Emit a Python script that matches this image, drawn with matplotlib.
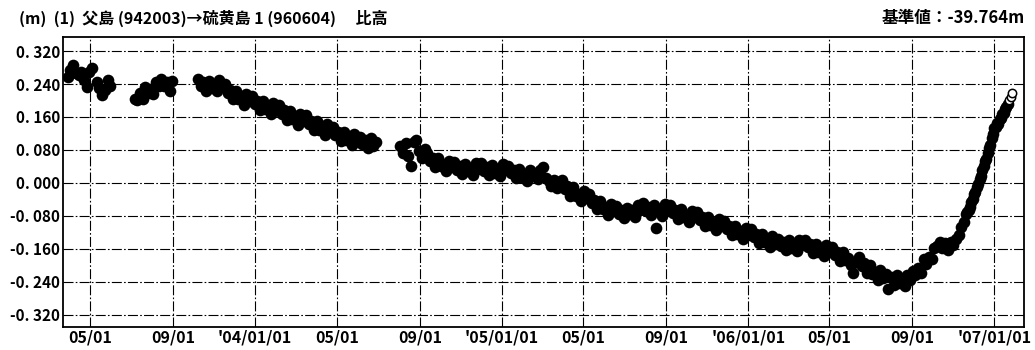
import pandas as pd
import matplotlib
matplotlib.use("Agg")
import matplotlib.pyplot as plt

plt.rcParams['font.family'] = ['Noto Sans CJK JP', 'DejaVu Sans']

# baseline height (m), one value every 4 days, per observation run
run1_start = "2003-03-29"
run1 = [0.258, 0.274, 0.286, 0.266, 0.262, 0.270, 0.250, 0.232, 0.270, 0.278]

run2_start = "2003-05-11"
run2 = [0.246, 0.230, 0.214, 0.226, 0.250, 0.236]

run3_start = "2003-07-06"
run3 = [0.204, 0.202, 0.218, 0.203, 0.232, 0.218, 0.229, 0.216, 0.246, 0.234,
        0.251, 0.234, 0.244, 0.224, 0.248]

run4_start = "2003-10-08"
run4 = [0.252, 0.234, 0.244, 0.224, 0.248, 0.230, 0.238, 0.222, 0.250, 0.236,
        0.239, 0.218, 0.225, 0.203, 0.224, 0.203, 0.208, 0.190, 0.215, 0.198,
        0.211, 0.191, 0.199, 0.177, 0.199, 0.179, 0.185, 0.167, 0.193, 0.177,
        0.189, 0.168, 0.176, 0.153, 0.175, 0.154, 0.160, 0.141, 0.167, 0.150,
        0.164, 0.143, 0.151, 0.128, 0.150, 0.129, 0.135, 0.116, 0.142, 0.125,
        0.136, 0.116, 0.124, 0.102, 0.124, 0.104, 0.110, 0.092, 0.118, 0.102,
        0.112, 0.094, 0.104, 0.084, 0.108, 0.090, 0.098]

run5_start = "2004-08-03"
run5 = [0.090, 0.072, 0.096, 0.064, 0.042, 0.100, 0.104, 0.078, 0.060, 0.082,
        0.072, 0.052, 0.060, 0.038, 0.060, 0.040, 0.046, 0.028, 0.054, 0.038,
        0.050, 0.032, 0.042, 0.022, 0.046, 0.028, 0.036, 0.020, 0.048, 0.034,
        0.047, 0.029, 0.039, 0.019, 0.043, 0.025, 0.033, 0.017, 0.045, 0.031,
        0.042, 0.023, 0.032, 0.011, 0.034, 0.015, 0.022, 0.005, 0.032, 0.017,
        0.022, 0.010, 0.030, 0.038, 0.012, 0.004, -0.008, 0.006, -0.012, -0.002,
        0.006, -0.015, -0.008, -0.031, -0.010, -0.031, -0.026, -0.045, -0.020, -0.037,
        -0.028, -0.049, -0.041, -0.064, -0.043, -0.063, -0.058, -0.077, -0.051, -0.068,
        -0.056, -0.075, -0.066, -0.086, -0.060, -0.076, -0.067, -0.082, -0.053, -0.066,
        -0.050, -0.068, -0.058, -0.078, -0.054, -0.110, -0.064, -0.080, -0.052, -0.066,
        -0.054, -0.074, -0.065, -0.087, -0.064, -0.084, -0.077, -0.095, -0.068, -0.084,
        -0.071, -0.091, -0.083, -0.105, -0.083, -0.103, -0.097, -0.115, -0.089, -0.105,
        -0.092, -0.112, -0.104, -0.126, -0.104, -0.124, -0.118, -0.136, -0.110, -0.126,
        -0.112, -0.132, -0.124, -0.146, -0.124, -0.144, -0.138, -0.156, -0.130, -0.148,
        -0.136, -0.154, -0.144, -0.164, -0.140, -0.158, -0.150, -0.166, -0.138, -0.152,
        -0.138, -0.157, -0.149, -0.170, -0.148, -0.167, -0.160, -0.178, -0.151, -0.167,
        -0.156, -0.176, -0.168, -0.190, -0.168, -0.188, -0.182, -0.200, -0.218, -0.192,
        -0.179, -0.201, -0.195, -0.219, -0.199, -0.221, -0.217, -0.236, -0.212, -0.230,
        -0.221, -0.258, -0.229, -0.249, -0.225, -0.243, -0.235, -0.251, -0.223, -0.237,
        -0.214, -0.224, -0.206, -0.218, -0.186, -0.196, -0.180, -0.186, -0.158, -0.154,
        -0.144, -0.158, -0.146, -0.162, -0.144, -0.150, -0.136, -0.126, -0.108, -0.094]

# last weeks of the record, one value every 2 days
run6_start = "2006-11-20"
run6 = [-0.076, -0.072, -0.066, -0.058, -0.046, -0.040, -0.028, -0.022, -0.010, -0.004,
        0.010, 0.016, 0.032, 0.040, 0.052, 0.058, 0.072, 0.084, 0.092, 0.110,
        0.118, 0.134, 0.136, 0.146, 0.144, 0.156, 0.158, 0.168, 0.170, 0.180,
        0.184, 0.192, 0.200, 0.208, 0.218]

# newest values (not yet final) are drawn hollow
n_open = 3

tick_dates = ["2003-05-01", "2003-09-01", "2004-01-01", "2004-05-01",
              "2004-09-01", "2005-01-01", "2005-05-01", "2005-09-01",
              "2006-01-01", "2006-05-01", "2006-09-01", "2007-01-01"]
tick_labels = ["05/01", "09/01", "'04/01/01", "05/01", "09/01", "'05/01/01",
               "05/01", "09/01", "'06/01/01", "05/01", "09/01", "'07/01/01"]
y_ticks = [-0.32, -0.24, -0.16, -0.08, 0.0, 0.08, 0.16, 0.24, 0.32]

fig = plt.figure(figsize=(10.35, 3.5), dpi=100)
ax = fig.add_axes([0.0609, 0.066, 0.9285, 0.828])

runs = [(run1_start, run1), (run2_start, run2), (run3_start, run3),
        (run4_start, run4), (run5_start, run5)]
for start, vals in runs:
    d = pd.date_range(start, periods=len(vals), freq="4D")
    ax.plot(d, vals, 'o', color='black', ms=8.4, mew=0, zorder=3)

d6 = pd.date_range(run6_start, periods=len(run6), freq="2D")
ax.plot(d6[:-n_open], run6[:-n_open], 'o', color='black', ms=8.4, mew=0, zorder=3)
ax.plot(d6[-n_open:], run6[-n_open:], 'o', mfc='white', mec='black',
        ms=6, mew=1.1, zorder=4)

ax.set_xlim(pd.Timestamp("2003-03-22"), pd.Timestamp("2007-02-14"))
ax.set_ylim(-0.350, 0.354)

ax.set_xticks(pd.to_datetime(tick_dates))
ax.set_xticklabels(tick_labels, fontsize=11.5, fontweight='bold')
ax.set_yticks(y_ticks)
ax.set_yticklabels([("%.3f" % v).replace(".", ". ") for v in y_ticks],
                   fontsize=11, fontweight='bold')
ax.tick_params(length=0, pad=2)

ax.grid(True, color='black', lw=0.8, linestyle=(0, (9, 2, 1.5, 2)))
ax.set_axisbelow(True)
for s in ax.spines.values():
    s.set_linewidth(1.3)

fig.text(0.018, 0.948, "(m)  (1)  父島 (942003)→硫黄島 1 (960604)　 比高",
         fontsize=11.5, fontweight='bold', va='center')
fig.text(0.99, 0.948, "基準値：-39.764m", fontsize=12, fontweight='bold',
         va='center', ha='right')

fig.savefig("out.png", dpi=100)
